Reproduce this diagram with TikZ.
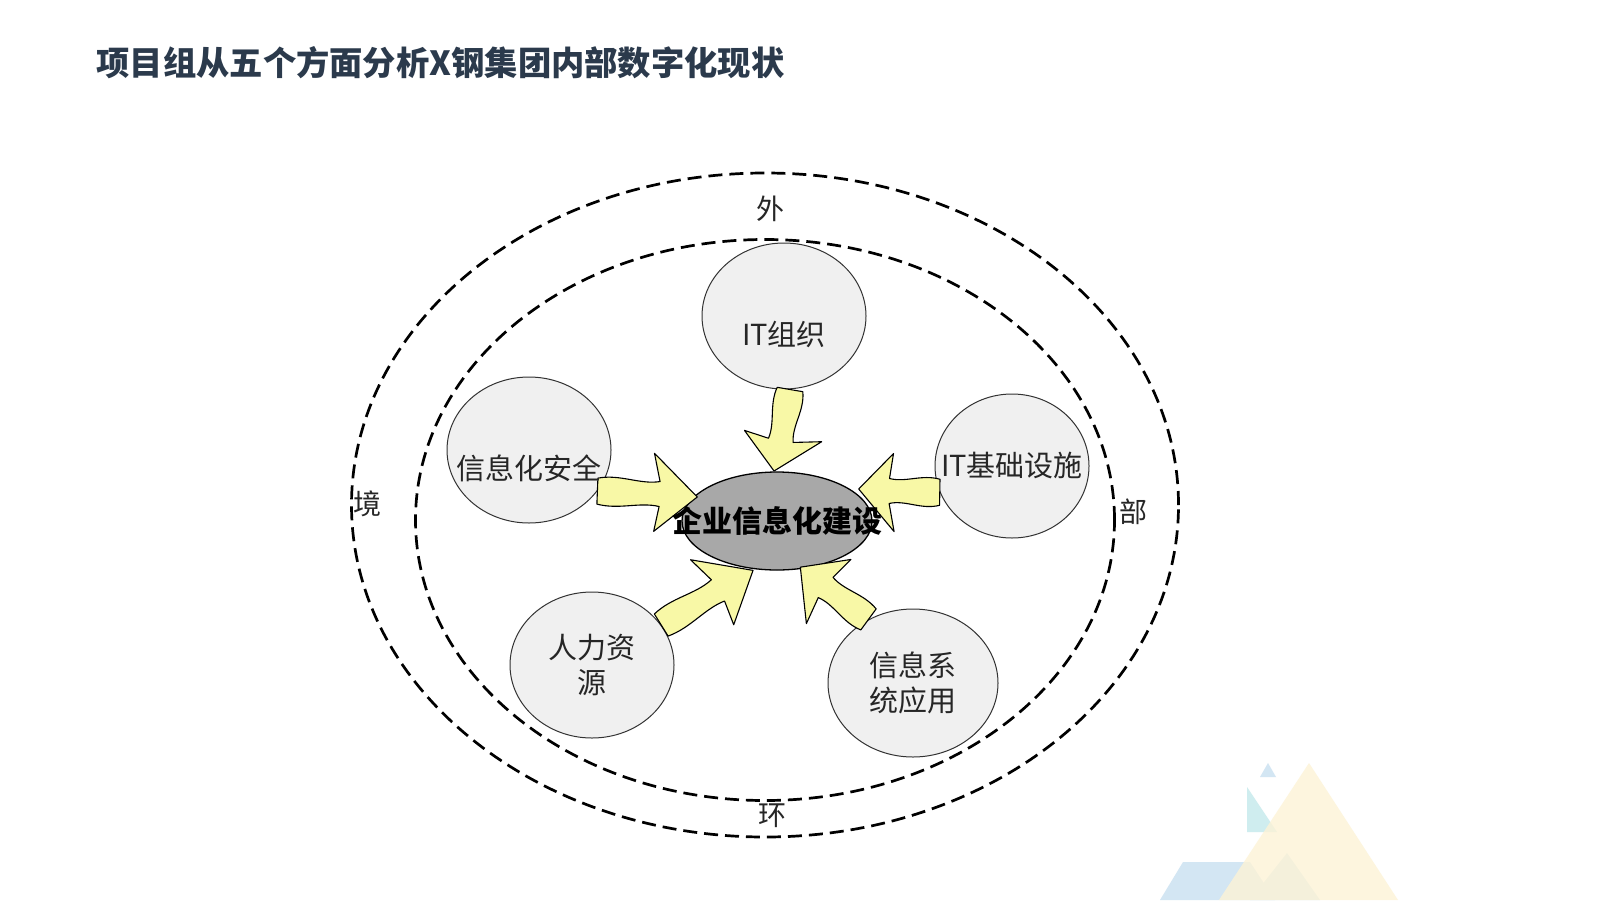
\documentclass[tikz,border=0pt]{standalone}
\usepackage{fontspec}
\newfontfamily\cjk{Noto Sans CJK SC}
\usetikzlibrary{shapes.geometric,calc}
\definecolor{titlec}{HTML}{2B3A4C}
\definecolor{circfill}{HTML}{F0F0F0}
\definecolor{ctrfill}{HTML}{A8A8A8}
\definecolor{arrowy}{HTML}{F8F8A6}
\definecolor{triblue}{HTML}{D3E6F3}
\definecolor{triteal}{HTML}{CFEDEF}
\definecolor{triyel}{HTML}{FDF3D6}
\tikzset{
  ring/.style={ellipse, draw=black, line width=2.7pt, dash pattern=on 14pt off 7pt, inner sep=0pt},
  topic/.style={ellipse, draw=black!80, line width=1pt, fill=circfill, minimum width=164pt, minimum height=146pt, inner sep=0pt},
  lbl/.style={font=\cjk\fontsize{29}{35}\selectfont, text=black!85, align=center},
  ringlbl/.style={font=\cjk\fontsize{28}{34}\selectfont, text=black!85},
  blockarr/.pic={\filldraw[fill=arrowy, draw=black, line width=1.1pt, line join=round]
    (0,-13) .. controls (20,-18) and (38,-8) .. (56,-12) -- (50,-40) -- (90,2) -- (52,38) -- (56,13) .. controls (38,9) and (20,18) .. (0,13) -- cycle;}
}
\newcommand\blockarrow[2]{\path let \p1=($(#2)-(#1)$), \n1={atan2(\y1,\x1)}, \n2={veclen(\x1,\y1)} in (#1) pic[rotate=\n1, xscale=\n2/90]{blockarr};}
\begin{document}
\begin{tikzpicture}[x=1pt,y=-1pt]
\useasboundingbox[fill=white] (0,0) rectangle (1600,900);
% decoration triangles
\fill[triblue] (1260,777) -- (1268,763) -- (1276,777) -- cycle;
\fill[triteal] (1247,787) -- (1277,832) -- (1247,832) -- cycle;
\fill[triblue] (1160,900) -- (1183,862) -- (1250,862) -- (1275,900) -- cycle;
\fill[triblue!80!triteal] (1250,900) -- (1287,853) -- (1320,900) -- cycle;
\fill[triyel, opacity=0.8] (1219,900) -- (1309,763) -- (1398,900) -- cycle;
% title
\node[anchor=west, font=\cjk\bfseries\fontsize{33.3}{38}\selectfont, text=titlec] (title) at (93,63) {项目组从五个方面分析X钢集团内部数字化现状};
% rings
\node[ring, minimum width=827pt, minimum height=664pt] (outer) at (765,505) {};
\node[ring, minimum width=699pt, minimum height=561pt] (inner) at (765,520) {};
\node[ringlbl] (wai) at (770,209) {外};
\node[ringlbl] (bu) at (1133,512) {部};
\node[ringlbl] (huan) at (772,816) {环};
\node[ringlbl] (jing) at (367,504) {境};
% topics
\node[topic] (it) at (784,316) {};
\node[topic] (sec) at (529,450) {};
\node[topic, minimum width=154pt, minimum height=144pt] (inf) at (1012,466) {};
\node[topic] (hr) at (592,665) {};
\node[topic, minimum width=170pt, minimum height=148pt] (isa) at (913,683) {};
% centre
\node[ellipse, draw=black, line width=1.3pt, fill=ctrfill, minimum width=190pt, minimum height=98pt, inner sep=0pt] (ctr) at (777,521) {};
% arrows
\coordinate (t1) at ($(it.south)+(6,0)$);
\coordinate (h1) at ($(ctr.north)+(-1,0)$);
\coordinate (t2) at (sec.-31);
\coordinate (h2) at ($(ctr.west)+(16,-26)$);
\coordinate (t3) at (inf.-160);
\coordinate (h3) at ($(ctr.east)+(-14,-30)$);
\coordinate (t4) at (hr.30);
\coordinate (h4) at ($(ctr.south)+(-25,-2)$);
\coordinate (t5) at (isa.125);
\coordinate (h5) at ($(ctr.south)+(22,-2)$);
\blockarrow{t1}{h1}
\blockarrow{t2}{h2}
\blockarrow{t3}{h3}
\blockarrow{t4}{h4}
\blockarrow{t5}{h5}
% labels
\node[lbl] (itl) at ($(it)+(0,18)$) {IT组织};
\node[lbl] (secl) at ($(sec)+(0,18)$) {信息化安全};
\node[lbl] (infl) at (inf) {IT基础设施};
\node[lbl] (hrl) at (hr) {人力资\\源};
\node[lbl] (isal) at (isa) {信息系\\统应用};
\node[font=\cjk\bfseries\fontsize{30}{36}\selectfont] (ctrl) at (777,521) {企业信息化建设};
\end{tikzpicture}
\end{document}
